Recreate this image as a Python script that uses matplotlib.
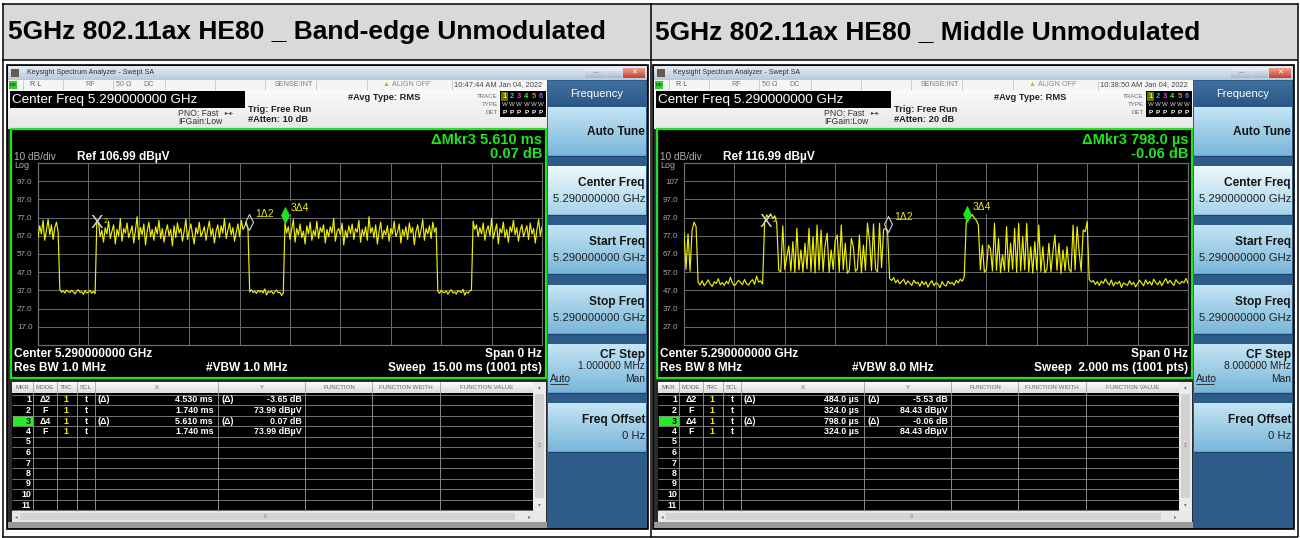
import numpy as np
import matplotlib
matplotlib.use('Agg')
import matplotlib.pyplot as plt
from matplotlib.patches import Rectangle
from matplotlib.colors import LinearSegmentedColormap
from matplotlib.path import Path

plt.rcParams['font.family'] = ['Liberation Sans', 'DejaVu Sans']

W, H = 1300, 538

titles = ['5GHz 802.11ax HE80 _ Band-edge Unmodulated',
          '5GHz 802.11ax HE80 _ Middle Unmodulated']

# band-edge capture: 15 ms zero-span sweep, one reading every 0.05 ms (dBuV)
edge_trace = [
    # burst tail 0-0.60 ms
    66.0, 72.5, 68.0, 75.5, 64.5, 70.0, 76.0, 67.5, 73.0, 65.0, 71.5, 74.5, 69.0,
    # gap 0.65-1.70 ms
    37.5, 36.0, 36.8, 35.5, 37.2, 36.4, 35.8, 37.0, 36.2, 35.0,
    36.6, 37.4, 35.9, 36.3, 34.8, 36.9, 35.6, 36.1, 37.1, 35.4,
    36.5, 35.2,
    # burst 1.75-6.25 ms
    74.0, 74.5, 66.5, 70.0, 63.5, 71.5, 68.0, 75.0, 65.5, 69.5,
    73.0, 62.5, 70.5, 67.0, 76.5, 64.0, 71.0, 68.5, 74.0, 66.0,
    69.0, 72.5, 63.0, 70.0, 77.5, 65.0, 71.5, 67.5, 73.5, 62.0,
    69.5, 74.5, 66.5, 70.5, 64.5, 72.0, 68.0, 75.5, 65.5, 71.0,
    63.5, 69.0, 73.0, 67.0, 70.5, 61.5, 72.5, 66.0, 74.0, 68.5,
    71.0, 64.0, 69.5, 76.0, 65.0, 70.0, 73.5, 67.5, 62.5, 71.5,
    68.0, 74.5, 66.5, 69.0, 72.0, 64.5, 70.5, 75.0, 67.0, 71.0,
    63.0, 69.5, 73.0, 66.0, 72.5, 68.5, 76.5, 65.5, 70.0, 74.0,
    67.5, 71.5, 64.0, 69.0, 73.5, 66.5, 75.5, 70.5, 72.0, 74.5,
    70.3,
    # gap 6.30-7.30 ms
    36.2, 37.4, 35.8, 36.6, 35.3, 37.0, 36.1, 36.9, 35.6, 37.8,
    34.5, 36.4, 35.9, 36.7, 35.1, 36.3, 37.2, 35.7, 36.0, 34.2,
    35.5,
    # burst 7.35-11.85 ms
    74.0, 68.5, 72.0, 65.0, 70.5, 76.0, 63.5, 71.0, 67.5, 73.5,
    66.0, 69.5, 62.5, 72.5, 68.0, 74.5, 64.5, 70.0, 67.0, 75.0,
    65.5, 71.5, 69.0, 73.0, 63.0, 70.5, 66.5, 72.0, 68.5, 76.5,
    64.0, 69.5, 71.0, 67.5, 74.0, 62.0, 70.0, 66.0, 72.5, 68.0,
    73.5, 65.0, 71.0, 69.0, 75.5, 63.5, 70.5, 67.0, 72.0, 64.5,
    77.5, 68.5, 71.5, 66.0, 73.0, 62.5, 69.5, 74.5, 65.5, 70.0,
    67.5, 72.5, 64.0, 71.0, 68.0, 75.0, 66.5, 69.0, 73.5, 63.0,
    70.5, 67.0, 72.0, 65.0, 74.0, 68.5, 71.5, 62.0, 69.5, 73.0,
    66.0, 70.0, 76.0, 64.5, 71.0, 68.0, 72.5, 65.5, 74.5, 69.0,
    71.5,
    # gap 11.90-12.90 ms
    36.5, 35.4, 37.1, 36.0, 35.7, 36.8, 34.9, 36.3, 37.3, 35.6,
    36.2, 35.0, 36.9, 36.4, 35.8, 37.6, 34.4, 36.1, 35.5, 36.7,
    37.0,
    # burst 12.95-15.00 ms
    75.0, 70.5, 73.0, 66.5, 71.5, 68.0, 74.0, 64.5, 70.0, 72.5,
    67.0, 76.5, 65.5, 69.5, 73.5, 62.5, 71.0, 68.5, 74.5, 66.0,
    70.5, 63.5, 72.0, 69.0, 75.5, 67.5, 71.5, 64.0, 70.0, 73.0,
    66.5, 69.5, 72.5, 65.0, 74.0, 68.0, 71.0, 63.0, 70.5, 76.0,
    67.0, 72.0,
]

# mid-band capture: 2 ms sweep, one reading every 8 us (dBuV)
mid_trace = [
    # burst tail 0-48 us
    79.0, 58.5, 78.0, 57.5, 80.0, 84.5, 82.0,
    # idle 56-312 us
    51.5, 50.0, 52.3, 49.6, 51.0, 52.8, 50.4, 49.2, 51.7, 50.8,
    53.4, 50.1, 51.3, 49.8, 52.0, 50.6, 54.2, 51.1, 49.5, 50.9,
    52.5, 51.4, 50.2, 53.0, 50.7, 49.9, 51.8, 52.9, 50.3, 54.8,
    51.6, 52.2, 50.5,
    # preamble 320-368 us
    84.4, 88.5, 87.0, 89.0, 86.5, 88.0, 84.0,
    # payload 376-808 us
    58.0, 57.2, 82.5, 58.4, 65.5, 71.4, 57.6, 73.8, 56.9, 81.1,
    58.2, 69.2, 57.0, 72.9, 58.8, 81.1, 57.4, 76.5, 56.6, 82.9,
    58.1, 80.2, 57.3, 71.9, 78.4, 56.8, 69.2, 58.5, 74.7, 77.4,
    57.1, 82.9, 58.3, 72.9, 56.4, 57.9, 75.6, 71.0, 57.5, 58.6,
    77.4, 56.7, 71.9, 58.0, 83.9, 74.7, 57.8, 83.5, 58.9, 57.2,
    83.9, 59.5, 80.5, 81.0, 78.9,
    # idle 816-1112 us
    53.5, 52.4, 54.0, 51.2, 52.8, 50.6, 51.9, 53.1, 50.3, 52.2,
    51.0, 49.7, 52.6, 50.8, 51.5, 49.3, 52.0, 50.1, 51.7, 48.8,
    50.9, 52.3, 49.6, 51.2, 50.4, 48.5, 51.8, 50.0, 49.4, 52.1,
    50.7, 51.3, 49.9, 52.5, 51.1, 53.2, 52.0, 54.5,
    # preamble 1120-1160 us
    84.4, 88.0, 87.2, 88.6, 86.8, 85.5,
    # payload 1168-1600 us
    82.9, 58.2, 71.9, 57.0, 58.4, 71.9, 70.1, 57.6, 83.9, 58.0,
    75.6, 56.8, 66.5, 57.9, 82.0, 57.3, 72.9, 58.5, 81.1, 56.9,
    83.9, 57.7, 76.5, 58.3, 83.9, 57.1, 71.0, 56.5, 73.8, 58.1,
    82.9, 57.4, 71.0, 56.7, 58.6, 72.9, 57.2, 68.3, 77.4, 58.0,
    72.9, 56.3, 69.2, 57.8, 71.0, 58.7, 57.0, 82.9, 58.2, 82.0,
    68.3, 57.5, 80.2, 79.2, 84.7,
    # idle 1608-2000 us
    53.0, 51.6, 52.4, 50.3, 51.8, 49.7, 52.1, 50.9, 53.3, 51.2,
    50.0, 52.7, 49.4, 51.5, 50.6, 52.0, 48.6, 51.1, 50.4, 49.8,
    52.3, 50.2, 51.4, 48.9, 50.7, 52.6, 51.0, 49.5, 52.8, 50.5,
    51.9, 49.9, 53.1, 51.3, 50.1, 52.2, 49.6, 51.7, 53.5, 50.8,
    52.5, 51.0, 49.7, 52.9, 51.4, 50.6, 52.0, 51.2, 53.6, 50.9,
]

edge_ref_level = 106.99
mid_ref_level = 116.99
edge_sweep = 15.0      # ms
mid_sweep = 2000.0     # us
edge_ylabels = ['97.0', '87.0', '77.0', '67.0', '57.0', '47.0', '37.0', '27.0', '17.0']
mid_ylabels = ['107', '97.0', '87.0', '77.0', '67.0', '57.0', '47.0', '37.0', '27.0']

# marker table: fixed marker (time, level) and deltas for markers 1 and 3
edge_mkr_ref = (1.740, 73.99)
edge_mkr_dt = [4.530, 5.610]
edge_mkr_dy = [-3.65, 0.07]
mid_mkr_ref = (324.0, 84.43)
mid_mkr_dt = [484.0, 798.0]
mid_mkr_dy = [-5.53, -0.06]

edge_setup = {'clock': '10:47:44 AM Jan 04, 2022', 'atten': '#Atten: 10 dB',
              'rbw': 'Res BW 1.0 MHz', 'vbw': '#VBW 1.0 MHz',
              'sweep': 'Sweep  15.00 ms (1001 pts)', 'step': '1.000000 MHz',
              'unit': 'ms', 'fmt': '{:.3f}'}
mid_setup = {'clock': '10:38:50 AM Jan 04, 2022', 'atten': '#Atten: 20 dB',
             'rbw': 'Res BW 8 MHz', 'vbw': '#VBW 8.0 MHz',
             'sweep': 'Sweep  2.000 ms (1001 pts)', 'step': '8.000000 MHz',
             'unit': 'µs', 'fmt': '{:.1f}'}

GREEN = '#1ee61e'
YELLOW = '#eeee00'
SCREEN_FONT = 8.6

fig = plt.figure(figsize=(W / 100, H / 100), dpi=100)
base = fig.add_axes([0, 0, 1, 1])
base.axis('off')


def box(x, y, w, h, fc, ec='none', lw=0.0, z=1):
    base.add_patch(Rectangle((x, y), w, h, facecolor=fc, edgecolor=ec, linewidth=lw, zorder=z))


def shade(x, y, w, h, top, bottom, z=1):
    cmap = LinearSegmentedColormap.from_list('g', [top, bottom])
    base.imshow(np.linspace(0, 1, 32).reshape(-1, 1), cmap=cmap, extent=(x, x + w, y + h, y),
                aspect='auto', interpolation='bilinear', zorder=z)


def label(x, y, s, size, color='white', weight='normal', ha='left', va='center', z=6, **kw):
    base.text(x, y, s, fontsize=size, color=color, fontweight=weight, ha=ha, va=va, zorder=z, **kw)


def hline(x0, x1, y, color, lw=0.6, z=3):
    base.plot([x0, x1], [y, y], color=color, lw=lw, zorder=z, solid_capstyle='butt')


def vline(x, y0, y1, color, lw=0.6, z=3):
    base.plot([x, x], [y0, y1], color=color, lw=lw, zorder=z, solid_capstyle='butt')


# marker glyph: tall diamond standing on the trace point
tip = Path([(0, 0), (-0.5, 1.0), (0, 2.0), (0.5, 1.0), (0, 0)], closed=True)


def draw_trace(dx, trace, sweep, ref, ylabels, mkr_ref, mkr_dt, mkr_dy):
    ax = fig.add_axes([(dx + 38) / W, 1 - 345 / H, 504 / W, 182 / H])
    ax.set_facecolor('black')
    ax.set_xlim(0, sweep)
    ax.set_ylim(ref - 100, ref)
    ax.set_xticks(np.linspace(0, sweep, 11))
    ax.set_xticklabels([])
    ax.set_yticks([ref - 10 * k for k in range(1, 10)])
    ax.set_yticklabels(ylabels, fontsize=5.8, color='#a8a8a8')
    ax.tick_params(length=0, pad=4)
    ax.grid(color='#6c6c6c', lw=0.7)
    for sp in ax.spines.values():
        sp.set_color('#6c6c6c')
        sp.set_linewidth(0.9)
    t = np.linspace(0, sweep, len(trace))
    ax.plot(t, trace, color=YELLOW, lw=0.85, zorder=3)

    t0, y0 = mkr_ref
    ax.text(t0, y0, 'X', color='#d6d6d6', fontsize=13.5, ha='center', va='center', zorder=5)
    ax.annotate('2', (t0, y0), xytext=(5, 1), textcoords='offset points', color=YELLOW,
                fontsize=5, va='center', zorder=5)
    t1, y1 = t0 + mkr_dt[0], y0 + mkr_dy[0]
    ax.plot([t1], [y1], marker=tip, ms=23, mfc='none', mec='#cfcfcf', mew=0.8, clip_on=False, zorder=5)
    ax.annotate('1Δ2', (t1, y1), xytext=(5, 11), textcoords='offset points', color=YELLOW,
                fontsize=7.5, va='center', zorder=5)
    t3, y3 = t0 + mkr_dt[1], y0 + mkr_dy[1]
    ax.plot([t3], [y3], marker=tip, ms=23, mfc=GREEN, mec=GREEN, mew=0.5, clip_on=False, zorder=6)
    ax.annotate('3Δ4', (t3, y3), xytext=(4, 11), textcoords='offset points', color=YELLOW,
                fontsize=7.5, va='center', zorder=6,
                bbox=dict(boxstyle='square,pad=0.15', fc='black', ec='none'))


def draw_screen(dx, setup, ref, mkr_ref, mkr_dt, mkr_dy):
    unit, fmt = setup['unit'], setup['fmt']

    # window frame, title bar
    box(dx + 7, 65, 641, 464, '#2a2a2a', ec='black', lw=1.2, z=0.5)
    shade(dx + 8, 66, 639, 14, '#e4ecf5', '#b8c9dc')
    box(dx + 11, 69, 8, 8, '#6b5a48', z=2)
    label(dx + 27, 73, 'Keysight Spectrum Analyzer - Swept SA', 5.1, '#303030')
    shade(dx + 585, 68, 21, 10, '#eef2f7', '#a9b9cc', z=2)
    shade(dx + 607, 68, 15, 10, '#eef2f7', '#a9b9cc', z=2)
    shade(dx + 623, 68, 22, 10, '#f0a090', '#c8402c', z=2)
    label(dx + 595.5, 73, '—', 4, '#5a6a7a', ha='center')
    label(dx + 634, 73, '✕', 5, 'white', ha='center')

    # status line
    box(dx + 8, 80, 539, 10, '#f5f5f5', z=1)
    for sx in [23, 63, 113, 165, 215, 265, 316, 367, 452]:
        vline(dx + sx, 80, 90, '#c4c4c4', 0.6)
    box(dx + 9, 81, 8, 8, '#33cc33', z=2)
    label(dx + 13, 85, 'LXI', 3.2, 'black', ha='center')
    label(dx + 30, 85, 'R L', 5.2, '#555555')
    label(dx + 85, 85, 'RF', 5.2, '#777777')
    label(dx + 116, 85, '50 Ω', 5.2, '#777777')
    label(dx + 143, 85, 'DC', 5.2, '#777777')
    label(dx + 313, 85, 'SENSE:INT', 5.2, '#777777', ha='right')
    label(dx + 386, 85, '▲', 5, '#e0b000', ha='center')
    label(dx + 392, 85, 'ALIGN OFF', 5.2, '#888888')
    label(dx + 454, 85, setup['clock'], 5.4, '#444444')

    # settings block
    shade(dx + 8, 90, 539, 39, '#fafafa', '#e8e8e8')
    box(dx + 10, 91, 235, 17, 'black', z=2)
    label(dx + 12, 100, 'Center Freq 5.290000000 GHz', 9.7, 'white')
    label(dx + 178, 113, 'PNO: Fast', 6.2, '#333333')
    label(dx + 224, 113, '-▸◂-', 4.5, '#333333')
    label(dx + 178, 121.5, 'IFGain:Low', 6.2, '#333333')
    label(dx + 248, 110, 'Trig: Free Run', 6.7, '#222222', 'bold')
    label(dx + 248, 120, setup['atten'], 6.7, '#222222', 'bold')
    label(dx + 348, 98, '#Avg Type: RMS', 6.7, '#222222', 'bold')
    label(dx + 498, 96, 'TRACE', 4.4, '#666666', ha='right')
    label(dx + 498, 104, 'TYPE', 4.4, '#666666', ha='right')
    label(dx + 498, 112, 'DET', 4.4, '#666666', ha='right')
    box(dx + 500, 91, 46, 26, 'black', z=2)
    box(dx + 501, 92, 7, 9, '#6d6d00', z=3)
    for k, c in enumerate(['#f5f500', '#00d0f0', '#ff30ff', '#30ff30', '#ff7050', '#7070ff']):
        label(dx + 504.5 + k * 7.3, 96.5, str(k + 1), 5.4, c, 'bold', ha='center')
        label(dx + 504.5 + k * 7.3, 104.5, 'W', 4.4, '#d8d8d8', ha='center')
        label(dx + 504.5 + k * 7.3, 112, 'P', 4.6, 'white', 'bold', ha='center')

    # display area
    box(dx + 11, 129, 535, 249, 'black', ec='#22e022', lw=1.6, z=2)
    dt3, dy3 = mkr_dt[1], mkr_dy[1]
    label(dx + 542, 140, 'ΔMkr3 ' + fmt.format(dt3) + ' ' + unit, 10.5, GREEN, 'bold', ha='right')
    label(dx + 542, 154, '{:.2f} dB'.format(dy3), 10.5, GREEN, 'bold', ha='right')
    label(dx + 14, 157.5, '10 dB/div', 7.2, '#b0b0b0')
    label(dx + 14, 165, 'Log', 6.4, '#b0b0b0')
    label(dx + 77, 157, 'Ref {:.2f} dBµV'.format(ref), SCREEN_FONT, 'white', 'bold')
    label(dx + 14, 354, 'Center 5.290000000 GHz', SCREEN_FONT, 'white', 'bold')
    label(dx + 14, 368, setup['rbw'], SCREEN_FONT, 'white', 'bold')
    label(dx + 206, 368, setup['vbw'], SCREEN_FONT, 'white', 'bold')
    label(dx + 542, 354, 'Span 0 Hz', SCREEN_FONT, 'white', 'bold', ha='right')
    label(dx + 542, 368, setup['sweep'], SCREEN_FONT, 'white', 'bold', ha='right')

    # marker table
    shade(dx + 12, 382, 521, 11, '#fcfcfc', '#dcdcdc')
    box(dx + 12, 393, 521, 118, 'black', z=1)
    cols = [33, 57, 77, 95, 218, 305, 372, 440]
    for cx in cols:
        vline(dx + cx, 382, 511, '#a0a0a0', 0.6)
    for name, cx in [('MKR', 22.5), ('MODE', 45), ('TRC', 66), ('SCL', 86), ('X', 157), ('Y', 262),
                     ('FUNCTION', 339), ('FUNCTION WIDTH', 406), ('FUNCTION VALUE', 487)]:
        label(dx + cx, 387.5, name, 4.4, '#666666', ha='center')
    for k in range(12):
        hline(dx + 12, dx + 533, 394.5 + k * 10.5, '#8a8a8a', 0.6)
    box(dx + 13, 395 + 2 * 10.5, 20, 10, '#22ee22', z=2)
    for k in range(11):
        label(dx + 31, 400 + k * 10.5, str(k + 1), 6.4, 'black' if k == 2 else 'white', 'bold', ha='right')

    t0, y0 = mkr_ref
    rows = [('Δ2', True, mkr_dt[0], '{:.2f} dB'.format(mkr_dy[0])),
            ('F', False, t0, '{:.2f} dBµV'.format(y0)),
            ('Δ4', True, mkr_dt[1], '{:.2f} dB'.format(mkr_dy[1])),
            ('F', False, t0, '{:.2f} dBµV'.format(y0))]
    for k, (mode, rel, xv, yv) in enumerate(rows):
        ry = 400 + k * 10.5
        label(dx + 45, ry, mode, 6.4, 'white', 'bold', ha='center')
        label(dx + 66, ry, '1', 6.4, YELLOW, 'bold', ha='center')
        label(dx + 86, ry, 't', 6.4, 'white', 'bold', ha='center')
        if rel:
            label(dx + 97, ry, '(Δ)', 6.4, 'white', 'bold')
            label(dx + 221, ry, '(Δ)', 6.4, 'white', 'bold')
        label(dx + 213, ry, fmt.format(xv) + ' ' + unit, 6.4, 'white', 'bold', ha='right')
        label(dx + 302, ry, yv, 6.4, 'white', 'bold', ha='right')

    # scroll bars
    box(dx + 533, 382, 13, 129, '#ececec', z=2)
    box(dx + 535, 394, 9, 104, '#d2d2d2', z=2)
    label(dx + 539.5, 387, '▴', 4, '#777777', ha='center')
    label(dx + 539.5, 505, '▾', 4, '#777777', ha='center')
    label(dx + 539.5, 446, '≡', 4, '#888888', ha='center')
    box(dx + 12, 511, 534, 11, '#e8e8e8', z=2)
    box(dx + 20, 513, 495, 7, '#d4d4d4', z=2)
    label(dx + 16, 516.5, '◂', 4, '#777777', ha='center')
    label(dx + 266, 516.5, 'III', 3.6, '#888888', ha='center')
    label(dx + 529, 516.5, '▸', 4, '#777777', ha='center')
    box(dx + 8, 522, 539, 6, '#9a9a9a', z=1)

    # softkey panel
    box(dx + 547, 80, 100, 448, '#2d5c8b', z=1)
    shade(dx + 548, 81, 98, 26, '#3f6f9f', '#2b5885', z=2)
    label(dx + 597, 94, 'Frequency', 8.0, 'white', ha='center')
    keys = [('Auto Tune', None), ('Center Freq', '5.290000000 GHz'), ('Start Freq', '5.290000000 GHz'),
            ('Stop Freq', '5.290000000 GHz'), ('CF Step', setup['step']), ('Freq Offset', '0 Hz')]
    for k, (name, val) in enumerate(keys):
        top = 107 + k * 59.2
        if k == 1:
            shade(dx + 548, top, 98, 49, '#eef8fd', '#a6d3ea', z=2)
        else:
            shade(dx + 548, top, 98, 49, '#c4e4f4', '#79b6d9', z=2)
        hline(dx + 548, dx + 646, top + 49, '#1d4670', 1.0)
        if val is None:
            label(dx + 645, top + 25, name, 8.6, '#151515', 'bold', ha='right')
        elif name == 'CF Step':
            label(dx + 645, top + 11, name, 8.6, '#151515', 'bold', ha='right')
            label(dx + 645, top + 22, val, 7.4, '#202020', ha='right')
            label(dx + 645, top + 35, 'Man', 7.4, '#202020', ha='right')
            label(dx + 550, top + 35, 'Auto', 7.4, '#202020')
            hline(dx + 550, dx + 568, top + 40, '#202020', 0.6, z=6)
        else:
            label(dx + 645, top + 17, name, 8.6, '#151515', 'bold', ha='right')
            label(dx + 645, top + 33, val, 8.1, '#202020', ha='right')

    draw_trace(dx, edge_trace if dx == 0 else mid_trace, edge_sweep if dx == 0 else mid_sweep,
               ref, edge_ylabels if dx == 0 else mid_ylabels, mkr_ref, mkr_dt, mkr_dy)


# table: caption row and borders
box(3, 4, 1294, 56, '#d9d9d9', z=0.2)
label(8, 32, titles[0], 19, 'black', 'bold')
label(655, 32, titles[1], 19, 'black', 'bold')

draw_screen(0, edge_setup, edge_ref_level, edge_mkr_ref, edge_mkr_dt, edge_mkr_dy)
draw_screen(646, mid_setup, mid_ref_level, mid_mkr_ref, mid_mkr_dt, mid_mkr_dy)

for x in [2.5, 651, 1297.5]:
    vline(x, 3, 537, 'black', 1.1, z=8)
for y in [3.5, 60, 536.5]:
    hline(2, 1298, y, 'black', 1.1, z=8)

base.set_xlim(0, W)
base.set_ylim(H, 0)
fig.savefig('out.png', dpi=100, facecolor='white')
